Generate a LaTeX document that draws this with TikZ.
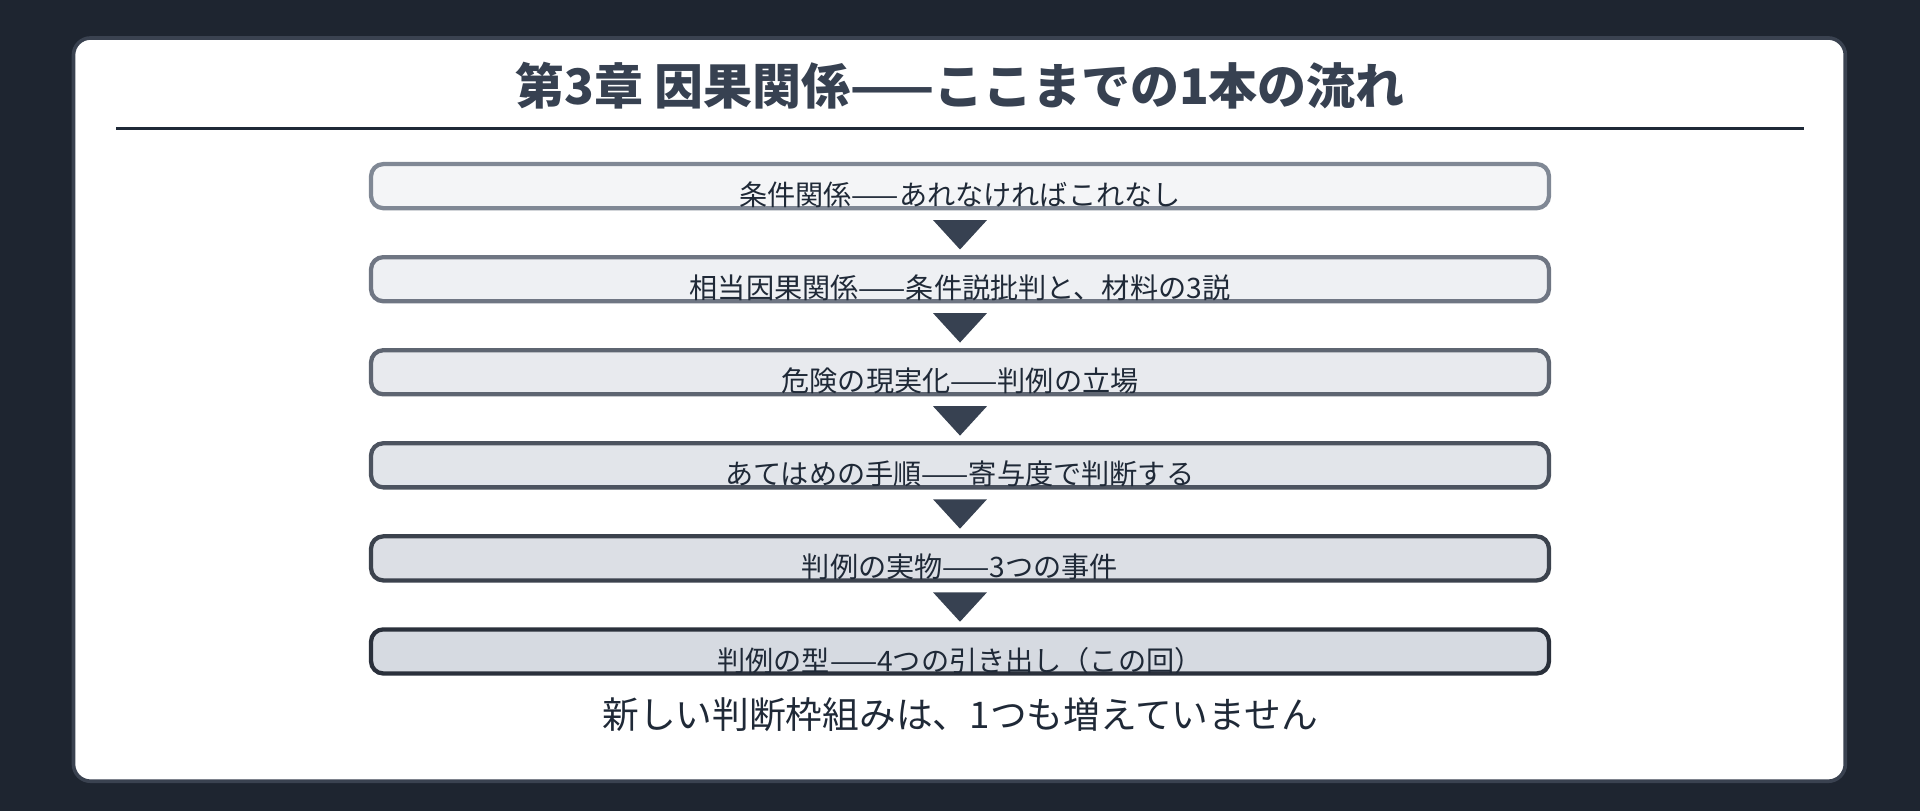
\documentclass[tikz,border=0pt]{standalone}
\usepackage{fontspec}
\setmainfont{Noto Sans CJK JP}
\usetikzlibrary{positioning, calc}
\definecolor{bg}{RGB}{30, 37, 48}
\definecolor{cardedge}{RGB}{58, 66, 80}
\definecolor{slate}{RGB}{55, 65, 81}
\definecolor{ink}{RGB}{31, 41, 55}
\definecolor{edgelight}{RGB}{128, 136, 149}
\definecolor{edgedark}{RGB}{42, 48, 59}
\definecolor{filllight}{RGB}{244, 245, 247}
\definecolor{filldark}{RGB}{214, 218, 225}

\begin{document}
\begin{tikzpicture}[
    x=1pt, y=-1pt,
    step/.style={
        rectangle,
        draw=#1,
        line width=3.5pt,
        minimum width=962pt,
        minimum height=36pt,
        rounded corners=10pt,
        inner sep=0pt
    },
    steptext/.style={
        anchor=base,
        text=ink,
        font=\fontsize{23}{23}\selectfont
    },
    down/.style={
        fill=slate
    }
]

% background and card
\fill[bg] (0,0) rectangle (1568,662);
\draw[cardedge, line width=3pt, fill=white, rounded corners=14pt] (60,31) rectangle (1507,638);

% title and rule
\node[text=slate, font=\bfseries\fontsize{40}{40}\selectfont] (title) at (784,70) {第3章 因果関係——ここまでの1本の流れ};
\draw[ink, line width=2pt] (95,105) -- (1473,105);

% steps
\foreach \i/\txt in {1/条件関係——あれなければこれなし,
                     2/相当因果関係——条件説批判と、材料の3説,
                     3/危険の現実化——判例の立場,
                     4/あてはめの手順——寄与度で判断する,
                     5/判例の実物——3つの事件,
                     6/判例の型——4つの引き出し（この回）} {
    \pgfmathtruncatemacro{\p}{(\i-1)*20}
    \colorlet{edgecur}{edgedark!\p!edgelight}
    \colorlet{fillcur}{filldark!\p!filllight}
    \node[step=edgecur, fill=fillcur] (s\i) at (784,{152+(\i-1)*76}) {};
    \node[steptext] (l\i) at ($(s\i.center)+(0,16)$) {\txt};
}

% arrows between steps
\foreach \i in {1,...,5} {
    \fill[down] ($(s\i.south)+(-22,8)$) -- ++(44,0) -- ++(-22,24) -- cycle;
}

% footer
\node[text=ink, font=\fontsize{30}{30}\selectfont, below=14pt of s6] (note) {新しい判断枠組みは、1つも増えていません};

\end{tikzpicture}
\end{document}
